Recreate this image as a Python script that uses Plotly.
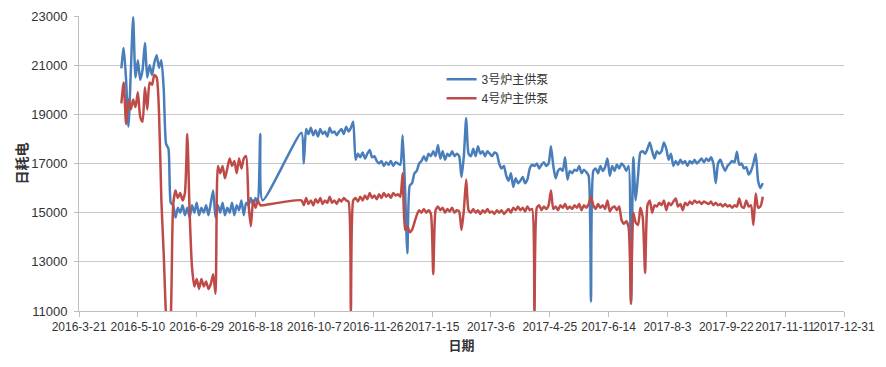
import pandas as pd
import plotly.graph_objects as go

# ---- data ----
period1_start = "2016-04-26"   # samples every 2 days
period2_start = "2016-09-26"   # samples every 2 days (no data in between)
sample_step = "2D"

blue_p1 = [20870, 21700, 20400, 18500, 20700, 22950, 20500, 21200, 20400, 20800,
           21900, 20500, 21000, 20600, 21100, 21400, 20900, 21200, 20000, 17800,
           17600, 15400, 15300, 14800, 15200, 15000, 15300, 14900, 15200, 14800,
           15300, 15000, 15400, 14900, 15200, 15000, 15300, 14900, 15400, 15900,
           14800, 15300, 15000, 15400, 14900, 15200, 15000, 15400, 14900, 15300,
           15100, 15500, 14900, 15400, 15300, 15600, 15300, 15600, 15400, 18200,
           15500]
red_p1 = [19450, 20300, 18600, 19600, 19200, 19600, 19300, 19900, 18900, 18700,
          20100, 19200, 20300, 20200, 20600, 20500, 19050, 15500, 13300, 10800,
          10000, 10800, 15300, 15900, 15600, 15800, 15500, 15800, 18200, 15000,
          12800, 12000, 12300, 11900, 12300, 12000, 12200, 11900, 12100, 12500,
          11700, 16900, 16600, 16900, 16400, 16800, 17200, 16900, 17100, 16600,
          17200, 16800, 17200, 17300, 15400, 14450, 15500, 15200, 15500, 15300,
          15300]

blue_p2 = [18250, 17000, 18400, 18200, 18450, 18150, 18350, 18100, 18400, 18200,
           18300, 18100, 18450, 18250, 18300, 18150, 18300, 18400, 18200, 18500,
           18300, 18450, 18700, 17150, 17400, 17250, 17450, 17200, 17400, 17550,
           17250, 17300, 17100, 17000, 17100, 16900, 17050, 16950, 17100, 16900,
           17050, 17000, 16950, 18150, 16000, 13350, 16100, 16200, 16600, 16700,
           17000, 17100, 17300, 17100, 17400, 17300, 17500, 17300, 17750, 17200,
           17500, 17150, 17400, 17300, 17500, 17300, 17400, 17300, 16450, 17300,
           18850, 17400, 17300, 17600, 17300, 17700, 17400, 17500, 17300, 17500,
           17400, 17300, 17450, 17400, 17000, 16800, 16900, 16500, 16300, 16600,
           16050, 16400, 16200, 16300, 16450, 16200, 16350, 16800, 16950, 16900,
           17000, 16800, 16950, 17050, 16900, 17000, 17700, 16900, 16400, 16700,
           16800, 16700, 17250, 16350, 16700, 16600, 16750, 16700, 16900, 16600,
           16750, 16650, 16500, 11380, 16700, 16800, 16600, 16900, 16700, 16850,
           17200, 16500, 16900, 16700, 16950, 16800, 17000, 16900, 16700, 16900,
           11300, 17250, 15500, 16500, 17450, 17500, 17400, 17600, 17850, 17500,
           17200, 17500, 17400, 17500, 17850, 17600, 17150, 17400, 16900, 17100,
           16950, 17150, 17000, 17100, 16900, 17100, 17000, 17150, 17000, 17100,
           17200, 17050, 17200, 17100, 17250, 17000, 16200, 17000, 17150, 16900,
           16700, 16900, 17000, 17100, 17050, 17480, 16950, 17000, 16800, 16850,
           16550, 16700, 17000, 17400, 16300, 16000, 16200]
red_p2 = [15500, 15300, 15600, 15350, 15500, 15300, 15550, 15400, 15600, 15350,
          15500, 15400, 15650, 15400, 15500, 15350, 15550, 15450, 15600, 15500,
          15450, 10950, 15500, 15600, 15450, 15650, 15500, 15700, 15550, 15800,
          15600, 15700, 15550, 15750, 15600, 15800, 15650, 15750, 15600, 15800,
          15700, 15750, 15650, 16600, 14300, 14450, 14200, 14300, 14600, 14900,
          15100, 15000, 15150, 15000, 15100, 14950, 12500, 15100, 15250, 15100,
          15200, 15000, 15150, 15050, 15200, 15000, 15100, 15050, 14300, 15100,
          16350, 15100, 15000, 15150, 15000, 15100, 14950, 15100, 15000, 15150,
          15000, 15050, 14950, 15100, 15000, 15100, 14950, 15050, 15150, 15000,
          15200, 15100, 15250, 15100, 15200, 15050, 15250, 15100, 15150, 10900,
          15200, 15300, 15100, 15250, 15150, 15300, 15900, 15150, 15250, 15100,
          15300, 15200, 15350, 15150, 15250, 15150, 15300, 15200, 15350, 15100,
          15300, 15200, 15350, 15650, 15300, 15150, 15350, 15200, 15300, 15150,
          15500, 15050, 15200, 15250, 15100, 15250, 14700, 14550, 14650, 14400,
          11300, 15000, 14600, 14500, 15200, 14800, 12550, 15300, 15500, 15000,
          15300, 15250, 15400, 15300, 15500, 15100, 15400, 15300, 15450, 15580,
          15250, 15350, 15100, 15400, 15300, 15450, 15350, 15500, 15400, 15450,
          15350, 15450, 15400, 15350, 15450, 15300, 15400, 15300, 15350, 15250,
          15350, 15250, 15300, 15200, 15300, 15250, 15580, 15250, 15200, 15500,
          15250, 15300, 14500, 15780, 15200, 15250, 15650]

series_names = ["3号炉主供泵", "4号炉主供泵"]
series_colors = ["#4A7EBB", "#BE4B48"]

x_tick_labels = ["2016-3-21", "2016-5-10", "2016-6-29", "2016-8-18", "2016-10-7",
                 "2016-11-26", "2017-1-15", "2017-3-6", "2017-4-25", "2017-6-14",
                 "2017-8-3", "2017-9-22", "2017-11-11", "2017-12-31"]
y_ticks = [11000, 13000, 15000, 17000, 19000, 21000, 23000]
x_title = "日期"
y_title = "日耗电"

# ---- build ----
dates = list(pd.date_range(period1_start, periods=len(blue_p1), freq=sample_step)) + \
        list(pd.date_range(period2_start, periods=len(blue_p2), freq=sample_step))
blue = blue_p1 + blue_p2
red = red_p1 + red_p2
tick_vals = [pd.to_datetime(t) for t in x_tick_labels]

fig = go.Figure()
for name, vals, col in zip(series_names, [blue, red], series_colors):
    fig.add_trace(go.Scatter(
        x=dates, y=vals, name=name, mode="lines",
        line=dict(color=col, width=2.5, shape="spline", smoothing=0.6),
    ))

font_main = "Liberation Sans, Arial, Noto Sans CJK SC, sans-serif"
fig.update_layout(
    width=886, height=367,
    margin=dict(l=79, r=42, t=16, b=56, autoexpand=False),
    paper_bgcolor="white", plot_bgcolor="white",
    font=dict(family=font_main, size=12, color="#333333"),
    showlegend=True,
    legend=dict(x=0.474, xanchor="left", y=0.835, yanchor="top",
                bgcolor="rgba(0,0,0,0)", font=dict(size=12, color="#333333"),
                tracegroupgap=0, itemwidth=30),
)
fig.update_xaxes(
    type="date", range=[tick_vals[0], tick_vals[-1]], automargin=False,
    tickmode="array", tickvals=tick_vals, ticktext=x_tick_labels, tickangle=0,
    showgrid=False, zeroline=False,
    showline=True, linecolor="#BFBFBF", linewidth=1,
    ticks="outside", ticklen=5, tickcolor="#BFBFBF",
    tickfont=dict(size=12, color="#333333"),
    title=dict(text="<b>" + x_title + "</b>", standoff=7,
               font=dict(family="Noto Sans CJK SC", size=13, color="#333333")),
)
fig.update_yaxes(
    range=[11000, 23000], automargin=False, tickmode="array", tickvals=y_ticks,
    ticktext=[str(v) for v in y_ticks],
    showgrid=True, gridcolor="#C8C8C8", gridwidth=1, zeroline=False,
    showline=True, linecolor="#BFBFBF", linewidth=1,
    ticks="outside", ticklen=4, tickcolor="#BFBFBF",
    ticklabelstandoff=4,
    tickfont=dict(size=13, color="#333333"),
    title=dict(text="<b>" + y_title + "</b>", standoff=0,
               font=dict(family="Noto Sans CJK SC", size=14, color="#333333")),
)

fig.write_html("out.html", config={"displayModeBar": False},
               post_script="document.body.style.margin='0';document.body.style.overflow='hidden';")
